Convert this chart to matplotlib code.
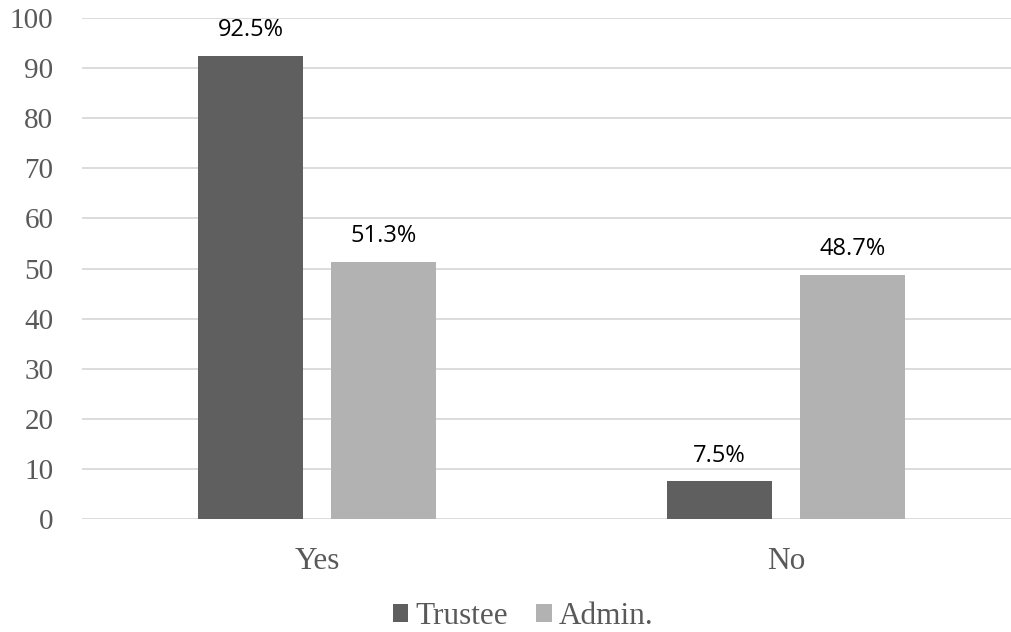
import matplotlib.pyplot as plt
import numpy as np

categories = ['Yes', 'No']
trustee = [92.5, 7.5]
admin = [51.3, 48.7]
trustee_labels = ['92.5%', '7.5%']
admin_labels = ['51.3%', '48.7%']
yticks = [0, 10, 20, 30, 40, 50, 60, 70, 80, 90, 100]

dark = '#5f5f5f'
light = '#b2b2b2'
grey_text = '#595959'

fig = plt.figure(figsize=(10.11, 6.32), dpi=100)
ax = fig.add_axes([0.0816, 0.1788, 0.928, 0.7927])

x = np.arange(len(categories))
w = 0.224
off = 0.142
b1 = ax.bar(x - off, trustee, w, color=dark, label='Trustee', zorder=3)
b2 = ax.bar(x + off, admin, w, color=light, label='Admin.', zorder=3)

for bars, labels in ((b1, trustee_labels), (b2, admin_labels)):
    for bar, lab in zip(bars, labels):
        ax.annotate(lab, (bar.get_x() + bar.get_width() / 2, bar.get_height()),
                    xytext=(0, 10), textcoords='offset points',
                    ha='center', va='bottom', fontsize=17, family='Open Sans',
                    color='black')

ax.set_xlim(-0.5, 1.5)
ax.set_ylim(0, 100)
ax.set_yticks(yticks)
ax.set_xticks(x)
ax.set_xticklabels(categories)
ax.yaxis.grid(True, color='#d9d9d9', linewidth=1.3, zorder=0)
ax.set_axisbelow(True)
for s in ax.spines.values():
    s.set_visible(False)
ax.tick_params(axis='both', length=0, labelcolor=grey_text)
ax.tick_params(axis='y', pad=21, labelsize=21)
ax.tick_params(axis='x', pad=20, labelsize=22.5)
for t in ax.get_xticklabels() + ax.get_yticklabels():
    t.set_family('Liberation Serif')

fig.legend(handles=[b1, b2], loc='center', bbox_to_anchor=(523 / 1011, 1 - 617 / 632),
           ncol=2, frameon=False, handlelength=0.51, handleheight=0.51,
           handletextpad=0.22, columnspacing=0.9, borderpad=0,
           prop={'family': 'Liberation Serif', 'size': 22.5}, labelcolor=grey_text)

fig.savefig('out.png', dpi=100)
